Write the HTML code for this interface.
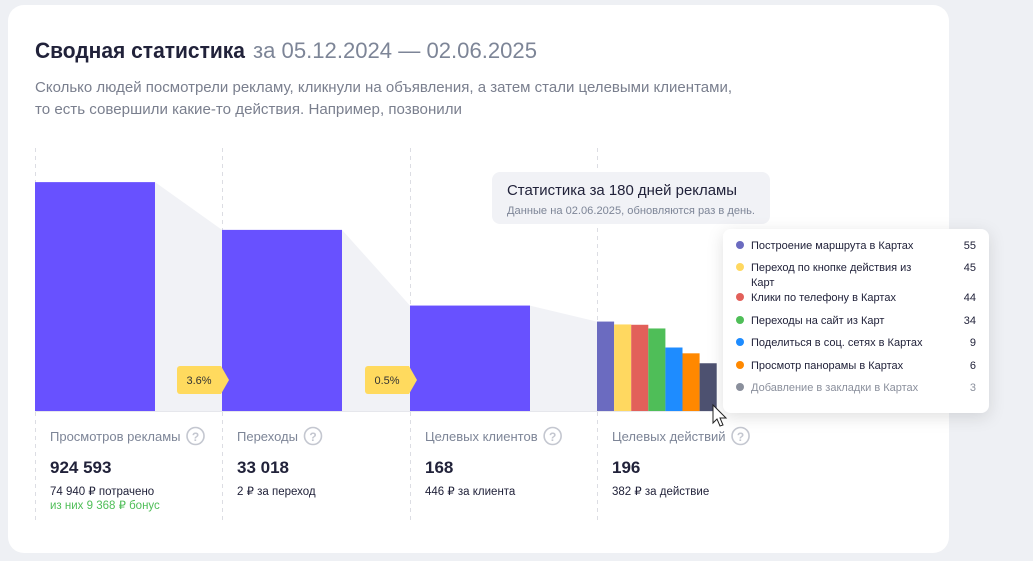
<!DOCTYPE html>
<html><head><meta charset="utf-8"><style>
body{margin:0;background:#eef0f4;width:1033px;height:561px;overflow:hidden;font-family:"Liberation Sans","Noto Sans CJK SC",sans-serif}
svg{display:block}
</style></head><body>
<svg id="chart" width="1033" height="561" xmlns="http://www.w3.org/2000/svg" font-family="Liberation Sans, Noto Sans CJK SC, sans-serif">
<defs><filter id="sh" x="-20%" y="-20%" width="140%" height="140%"><feDropShadow dx="0" dy="4" stdDeviation="8" flood-color="#000" flood-opacity="0.12"/></filter></defs>
<rect x="8" y="5" width="941" height="548" rx="16" fill="#fff"/>
<text x="35" y="58" font-size="22" font-weight="bold" fill="#21223a" textLength="210" lengthAdjust="spacingAndGlyphs">Сводная статистика</text>
<text x="253" y="58" font-size="22" fill="#7d8597" textLength="284" lengthAdjust="spacingAndGlyphs">за 05.12.2024 — 02.06.2025</text>
<text x="35" y="92" font-size="15" fill="#7a7f8e" textLength="697" lengthAdjust="spacingAndGlyphs">Сколько людей посмотрели рекламу, кликнули на объявления, а затем стали целевыми клиентами,</text>
<text x="35" y="114" font-size="15" fill="#7a7f8e" textLength="427" lengthAdjust="spacingAndGlyphs">то есть совершили какие-то действия. Например, позвонили</text>
<g id="plot"></g>
<g>
<rect x="492" y="172" width="278" height="52" rx="8" fill="#f1f2f6"/>
<text x="507" y="195" font-size="15" fill="#21223a" textLength="230" lengthAdjust="spacingAndGlyphs">Статистика за 180 дней рекламы</text>
<text x="507" y="214" font-size="11" fill="#7d8597" textLength="248" lengthAdjust="spacingAndGlyphs">Данные на 02.06.2025, обновляются раз в день.</text>
</g>
<g id="tip">
<rect x="723" y="229" width="266" height="184" rx="8" fill="#fff" filter="url(#sh)"/>
</g>
<path d="M713 405 L713 423 L717 419 L720 426 L723 425 L720 418 L726 418 Z" fill="#fff" stroke="#222" stroke-width="1"/>
</svg>
<script>
const stageLabels=["Просмотров рекламы","Переходы","Целевых клиентов","Целевых действий"];
const stageValues=[924593,33018,168];
const stageValueText=["924 593","33 018","168","196"];
const stageSub=["74 940 ₽ потрачено","2 ₽ за переход","446 ₽ за клиента","382 ₽ за действие"];
const convLabels=["3.6%","0.5%"];
const actionNames=["Построение маршрута в Картах","Переход по кнопке действия из Карт","Клики по телефону в Картах","Переходы на сайт из Карт","Поделиться в соц. сетях в Картах","Просмотр панорамы в Картах","Добавление в закладки в Картах"];
const actionValues=[55,45,44,34,9,6,3];
const actionColors=["#6b6bc0","#ffd860","#e2605a","#4fbe58","#1e8cff","#ff8800","#4d5170"];

const NS="http://www.w3.org/2000/svg";
const plot=document.getElementById('plot'),tip=document.getElementById('tip');
function el(t,a,p){const e=document.createElementNS(NS,t);for(const k in a)e.setAttribute(k,a[k]);(p||plot).appendChild(e);return e;}
const base=411;
function h(v){return 33*Math.log10(v)+32;}
function y(v){return base-h(v);}
const colX=[35,222,410,597];
colX.forEach((x,i)=>{const l=el('line',{x1:x+0.5,y1:148,x2:x+0.5,y2:520,stroke:'#dcdde3','stroke-dasharray':'4 4'});

});
const tops=stageValues.map(y).concat([y(actionValues[0])]);
for(let i=0;i<3;i++){const x1=colX[i]+120,x2=colX[i+1];
const p=el('polygon',{points:`${x1},${tops[i]} ${x2},${tops[i+1]} ${x2},${base} ${x1},${base}`,fill:'#f1f2f6'});

}
stageValues.forEach((v,i)=>{const r=el('rect',{x:colX[i],y:y(v),width:120,height:h(v),fill:'#6851ff'});

});
actionValues.forEach((v,i)=>{const r=el('rect',{x:colX[3]+i*17.1,y:y(v),width:17.1,height:h(v),fill:actionColors[i]});

});
el('line',{x1:35,y1:base+0.5,x2:715,y2:base+0.5,stroke:'#e6e7ec'});
convLabels.forEach((t,i)=>{const x=colX[i+1]+10;const g=el('g',{});


el('path',{d:`M${x-52} 366 h41 l8 14 l-8 14 h-41 a3 3 0 0 1 -3 -3 v-22 a3 3 0 0 1 3 -3z`,fill:'#ffda5e'},g);
const tx=el('text',{x:x-33,y:384,'font-size':11,fill:'#333','text-anchor':'middle'},g);tx.textContent=t;});
stageLabels.forEach((t,i)=>{const x=colX[i]+15;
const a=el('text',{x:x,y:441,'font-size':13,fill:'#7d8597'});a.textContent=t;


const w=a.getComputedTextLength();
const q=el('g',{});


el('circle',{cx:x+w+15,cy:436,r:8.5,fill:'none',stroke:'#c4c7d0','stroke-width':1.6},q);
const qt=el('text',{x:x+w+15,y:441,'font-size':12,fill:'#c4c7d0','text-anchor':'middle','font-weight':'bold'},q);qt.textContent='?';
const n=el('text',{x:x,y:473,'font-size':17,'font-weight':'bold',fill:'#21223a'});n.textContent=stageValueText[i];


const s=el('text',{x:x,y:495,'font-size':11.5,fill:'#21223a'});s.textContent=stageSub[i];

});
const b=el('text',{x:50,y:509,'font-size':11.5,fill:'#4fbe58'});b.textContent='из них 9 368 ₽ бонус';


const rowY=[246,268,298,321,343,366,388];
actionNames.forEach((nm,i)=>{const yy=rowY[i];const g=el('g',{},tip);


const last=i===actionNames.length-1;
el('circle',{cx:740,cy:yy-1,r:4,fill:last?'#8a8f9c':actionColors[i]},g);
const fc=last?'#8a8f9c':'#21223a';
if(i===1){const t1=el('text',{x:751,y:yy+3,'font-size':11,fill:fc},g);t1.textContent='Переход по кнопке действия из';
const t2=el('text',{x:751,y:yy+18,'font-size':11,fill:fc},g);t2.textContent='Карт';}
else{const t=el('text',{x:751,y:yy+3,'font-size':11,fill:fc},g);t.textContent=nm;}
const v=el('text',{x:976,y:yy+3,'font-size':11,fill:fc,'text-anchor':'end'},g);v.textContent=actionValues[i];});
</script>
</body></html>
